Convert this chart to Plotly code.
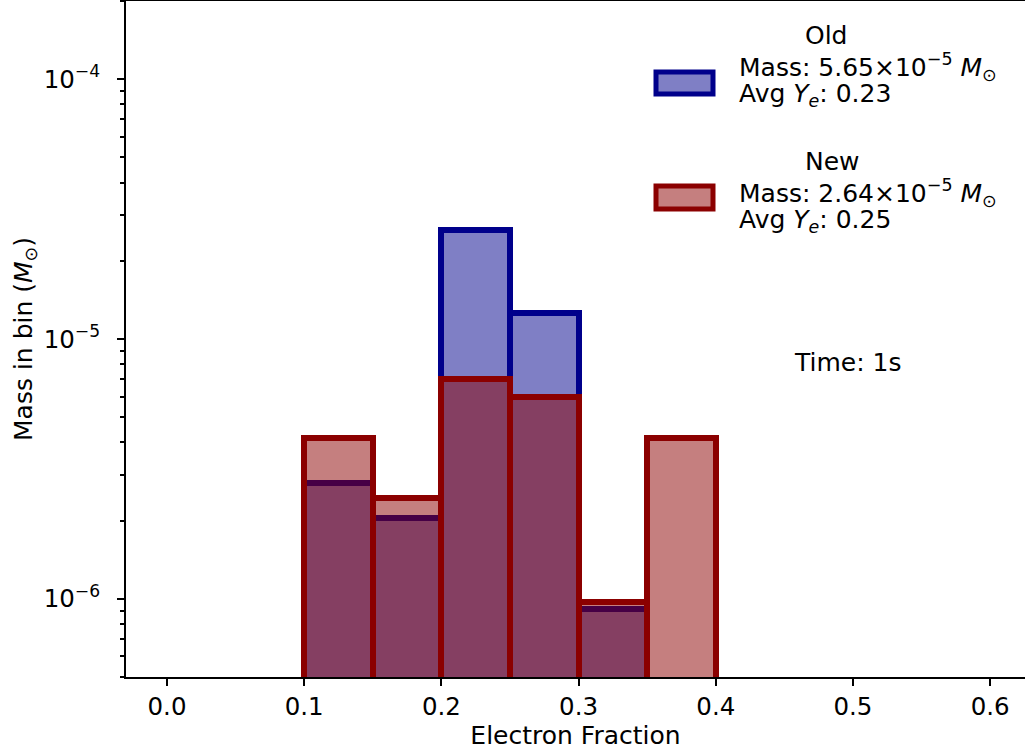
import plotly.graph_objects as go

# Histogram bins of electron fraction (Ye)
bin_left = [0.10, 0.15, 0.20, 0.25, 0.30, 0.35]
bin_width = 0.05
bin_centers = [b + bin_width / 2 for b in bin_left]

# Mass in each bin (solar masses)
mass_old = [2.80e-6, 2.04e-6, 2.62e-5, 1.256e-5, 9.1e-7, None]
mass_new = [4.16e-6, 2.45e-6, 7.02e-6, 6.00e-6, 9.74e-7, 4.16e-6]

old_label = ["Old", "Mass: 5.65×10<sup>−5</sup> <i>M</i><sub>⊙</sub>", "Avg <i>Y<sub>e</sub></i>: 0.23"]
new_label = ["New", "Mass: 2.64×10<sup>−5</sup> <i>M</i><sub>⊙</sub>", "Avg <i>Y<sub>e</sub></i>: 0.25"]

x_ticks = [0.0, 0.1, 0.2, 0.3, 0.4, 0.5, 0.6]
y_major = [1e-6, 1e-5, 1e-4]
y_major_text = ["10<sup>−6</sup>", "10<sup>−5</sup>", "10<sup>−4</sup>"]
y_minor = [m * 10.0 ** e for e in (-7, -6, -5, -4) for m in range(2, 10)]

OLD_EDGE = "#00008B"
OLD_FILL = "rgba(0,0,139,0.5)"
NEW_EDGE = "#8B0000"
NEW_FILL = "rgba(139,0,0,0.5)"
FONT = "DejaVu Sans"
FS = 25
TICK_FS = 24.5

W, H = 1025, 755
L, R, T, B = 126, 0, 1, 78
PW, PH = W - L - R, H - T - B


def px(x):
    return (x - L) / PW


def py(y):
    return (H - B - y) / PH


fig = go.Figure()
fig.add_trace(go.Bar(x=bin_centers, y=mass_old, width=bin_width, name="Old",
                     marker=dict(color=OLD_FILL, line=dict(color=OLD_EDGE, width=6)),
                     showlegend=False))
fig.add_trace(go.Bar(x=bin_centers, y=mass_new, width=bin_width, name="New",
                     marker=dict(color=NEW_FILL, line=dict(color=NEW_EDGE, width=6)),
                     showlegend=False))

# Hand-built legend: patch plus three lines of text per entry
entries = [
    (old_label, OLD_FILL, OLD_EDGE, (656, 713, 72, 94), (35, 67, 95)),
    (new_label, NEW_FILL, NEW_EDGE, (656, 713, 186, 209), (161, 193, 221)),
]
for lines, fill, edge, (x0, x1, y0, y1), ys in entries:
    fig.add_shape(type="rect", xref="paper", yref="paper",
                  x0=px(x0), x1=px(x1), y0=py(y1), y1=py(y0),
                  fillcolor=fill, line=dict(color=edge, width=5))
    xs = [803, 737, 737]
    for text, xx, yy in zip(lines, xs, ys):
        fig.add_annotation(text=text, xref="paper", yref="paper", x=px(xx), y=py(yy),
                           xanchor="left", yanchor="middle", showarrow=False,
                           font=dict(family=FONT, size=FS, color="black"))

fig.add_annotation(text="Time: 1s", xref="paper", yref="paper", x=px(847), y=py(362),
                   xanchor="center", yanchor="middle", showarrow=False,
                   font=dict(family=FONT, size=FS, color="black"))

fig.update_layout(
    width=W, height=H,
    margin=dict(l=L, r=R, t=T, b=B),
    paper_bgcolor="white", plot_bgcolor="white",
    barmode="overlay", bargap=0,
    font=dict(family=FONT, size=FS, color="black"),
    xaxis=dict(range=[-0.0299, 0.6254], tickvals=x_ticks,
               ticktext=[f"{v:.1f}" for v in x_ticks],
               tickfont=dict(family=FONT, size=TICK_FS),
               showline=True, linecolor="black", linewidth=2, mirror=True,
               ticks="outside", ticklen=7, tickwidth=2, tickcolor="black",
               showgrid=False, zeroline=False,
               title=dict(text="Electron Fraction", standoff=5,
                          font=dict(family=FONT, size=FS))),
    yaxis=dict(type="log", range=[-6.301, -3.699],
               tickvals=y_major, ticktext=y_major_text,
               tickfont=dict(family=FONT, size=TICK_FS),
               ticklabelstandoff=12,
               showline=True, linecolor="black", linewidth=2, mirror=False,
               ticks="outside", ticklen=7, tickwidth=2, tickcolor="black",
               minor=dict(tickvals=y_minor, ticks="outside", ticklen=4,
                          tickwidth=1.5, tickcolor="black", showgrid=False),
               showgrid=False, zeroline=False,
               title=dict(text="Mass in bin (<i>M</i><sub>⊙</sub>)", standoff=4,
                          font=dict(family=FONT, size=FS))),
)

fig.write_html("out.html")
